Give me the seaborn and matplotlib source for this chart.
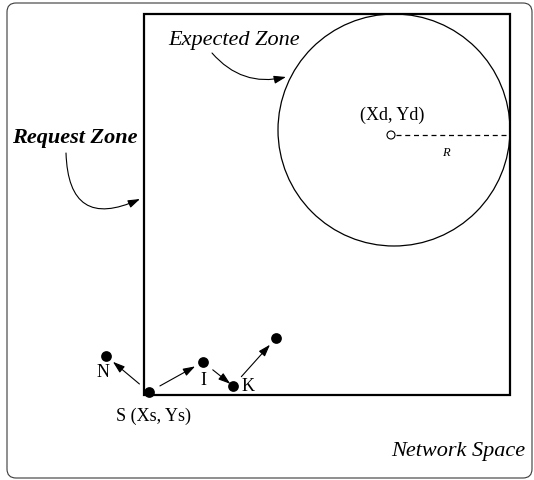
import matplotlib
matplotlib.use("Agg")
import matplotlib.pyplot as plt
import matplotlib.patches as mpatches
import seaborn as sns
import pandas as pd

# ---- data ----
node_names = ["S", "N", "I", "K", "X"]
node_x = [149, 106, 203, 233, 276]
node_y = [393, 357, 363, 387, 339]
node_labels = ["S (Xs, Ys)", "N", "I", "K", ""]
edges = [("S", "N"), ("S", "I"), ("I", "K"), ("K", "X")]
dest_center = (391, 136)
zone_circle_center = (394, 131)
zone_radius = 116
request_zone = (144, 15, 510, 396)  # left, top, right, bottom

sns.set_theme(style="white")
plt.rcParams["font.family"] = ["Liberation Serif", "DejaVu Serif"]
plt.rcParams["text.color"] = "black"

fig = plt.figure(figsize=(5.34, 4.81), dpi=100)
ax = fig.add_axes([0, 0, 1, 1])
ax.set_xlim(0, 534)
ax.set_ylim(481, 0)
ax.axis("off")

# outer network space border
outer = mpatches.FancyBboxPatch((7, 4), 525, 475,
                                boxstyle="round,pad=0,rounding_size=9",
                                fill=False, ec="#3a3a3a", lw=0.8)
ax.add_patch(outer)

# request zone rectangle
l, t, r, b = request_zone
ax.add_patch(mpatches.Rectangle((l, t), r - l, b - t, fill=False, ec="black", lw=1.6))

# expected zone circle
ax.add_patch(mpatches.Circle(zone_circle_center, zone_radius, fill=False, ec="black", lw=0.9))

# destination center
ax.add_patch(mpatches.Circle(dest_center, 4, fill=False, ec="black", lw=0.8))
ax.plot([dest_center[0] + 5, r], [dest_center[1], dest_center[1]],
        ls=(0, (4, 3)), color="black", lw=0.9)
ax.text(446, 153, "R", fontsize=9, style="italic", ha="center", va="center")
ax.text(392, 115, "(Xd, Yd)", fontsize=13, ha="center", va="center")

# nodes
df = pd.DataFrame({"name": node_names, "x": node_x, "y": node_y})
sns.scatterplot(data=df, x="x", y="y", ax=ax, color="black", s=60,
                edgecolor="black", linewidth=0, legend=False, zorder=5)
ax.set_xlim(0, 534)
ax.set_ylim(481, 0)
ax.axis("off")

pos = {n: (x, y) for n, x, y in zip(node_names, node_x, node_y)}
for a, bnode in edges:
    shrink_b = 2.5 if bnode == "K" else 6.5
    ax.annotate("", xy=pos[bnode], xytext=pos[a],
                arrowprops=dict(arrowstyle="-|>,head_length=0.6,head_width=0.2",
                                color="black", lw=0.8, shrinkA=9, shrinkB=shrink_b))

label_pos = {"S": (153, 416), "N": (103, 373), "I": (203, 381), "K": (248, 387)}
for n, lab in zip(node_names, node_labels):
    if lab:
        ax.text(*label_pos[n], lab, fontsize=13, ha="center", va="center")

# zone labels with curved arrows
ax.text(234, 41, "Expected Zone", fontsize=16, style="italic", ha="center", va="center")
ax.annotate("", xy=(286, 78), xytext=(212, 54),
            arrowprops=dict(arrowstyle="-|>,head_length=0.6,head_width=0.2",
                            color="black", lw=0.8, connectionstyle="arc3,rad=0.3",
                            shrinkA=0, shrinkB=0))
ax.text(75, 138, "Request Zone", fontsize=16, style="italic", weight="bold",
        ha="center", va="center")
ax.annotate("", xy=(140, 200), xytext=(66, 154),
            arrowprops=dict(arrowstyle="-|>,head_length=0.6,head_width=0.2",
                            color="black", lw=0.8, connectionstyle="arc3,rad=0.75",
                            shrinkA=0, shrinkB=0))

ax.text(458, 452, "Network Space", fontsize=16, style="italic", ha="center", va="center")

fig.savefig("out.png", dpi=100)
